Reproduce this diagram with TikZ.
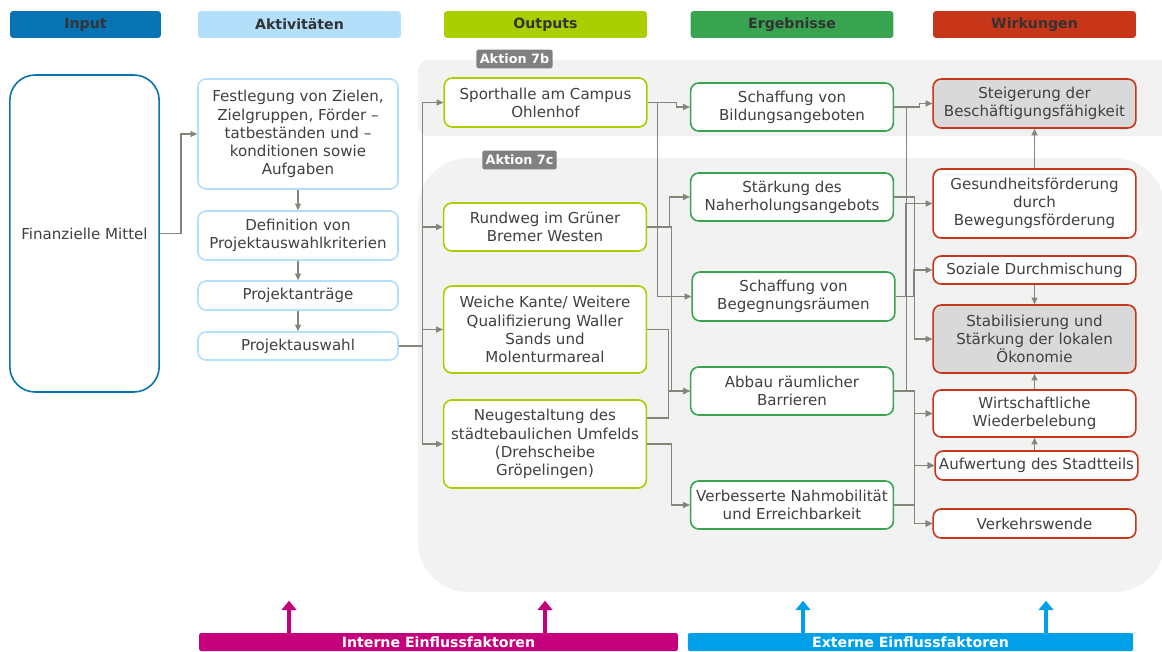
\documentclass[tikz,border=0pt]{standalone}
\usepackage{fontspec}
\setmainfont{DejaVu Sans}
\usetikzlibrary{arrows.meta,calc}

\definecolor{inblue}{HTML}{0773B3}
\definecolor{aktblue}{HTML}{B3DFFB}
\definecolor{outlime}{HTML}{AACF00}
\definecolor{erggreen}{HTML}{38A450}
\definecolor{wirkred}{HTML}{C8361A}
\definecolor{panel}{HTML}{F2F2F2}
\definecolor{shade}{HTML}{D9D9D9}
\definecolor{lnk}{HTML}{85857A}
\definecolor{txtgray}{HTML}{404040}
\definecolor{intmag}{HTML}{C4007A}
\definecolor{extblue}{HTML}{00A0E9}

\tikzset{
  every node/.style={font=\fontsize{11.3}{13.6}\selectfont, text=txtgray},
  bh/.style={minimum height=#1*0.75pt},
  hdr/.style={rounded corners=2pt, minimum height=20pt, minimum width=152pt,
    font=\fontsize{10.6}{12}\bfseries, text=black!80},
  tag/.style={fill=black!50, rounded corners=1.5pt, minimum height=14pt,
    inner sep=2.5pt, font=\fontsize{9.6}{11}\bfseries, text=white},
  box/.style={draw, line width=1.2pt, rounded corners=6pt, fill=white,
    align=center, inner sep=0pt, minimum width=152pt},
  akt/.style={box, draw=aktblue, minimum width=150pt},
  outp/.style={box, draw=outlime},
  erg/.style={box, draw=erggreen},
  wirk/.style={box, draw=wirkred},
  conn/.style={draw=lnk, line width=0.8pt, -{Triangle[length=5pt,width=4.5pt]}},
  bus/.style={draw=lnk, line width=0.8pt},
  bar/.style={minimum height=13.5pt, inner sep=0pt, rounded corners=1.5pt,
    font=\fontsize{10.6}{12}\bfseries, text=white},
  fat/.style={line width=3.5pt, -{Triangle[length=7pt,width=11pt]}}
}

\begin{document}
\begin{tikzpicture}[x=0.75pt,y=-0.75pt]
  \useasboundingbox (0,0) rectangle (1162,651);

  % Aktion panels
  \fill[panel, rounded corners=8pt] (418,60) rectangle (1172,136);
  \fill[panel, rounded corners=38pt] (418,158) rectangle (1165,592);
  \node[tag] (t7b) at (514.5,59) {Aktion 7b};
  \node[tag] (t7c) at (519.5,160) {Aktion 7c};

  % headers
  \node[hdr, fill=inblue, minimum width=113pt] (hin) at (85.5,24.5) {Input};
  \node[hdr, fill=aktblue] (hakt) at (299.5,24.5) {Aktivitäten};
  \node[hdr, fill=outlime] (hout) at (545.5,24.5) {Outputs};
  \node[hdr, fill=erggreen] (herg) at (792,24.5) {Ergebnisse};
  \node[hdr, fill=wirkred] (hwirk) at (1034.5,24.5) {Wirkungen};

  % input
  \node[box, draw=inblue, rounded corners=19pt, minimum width=112pt, bh=317] (in) at (84.5,233.5) {Finanzielle Mittel};

  % activities
  \node[akt, bh=110] (a1) at (298,134) {Festlegung von Zielen,\\Zielgruppen, Förder –\\tatbeständen und –\\konditionen sowie\\Aufgaben};
  \node[akt, bh=49] (a2) at (298,235.5) {Definition von\\Projektauswahlkriterien};
  \node[akt, bh=29] (a3) at (298,295.5) {Projektanträge};
  \node[akt, bh=28] (a4) at (298,346) {Projektauswahl};

  % outputs
  \node[outp, bh=49] (o1) at (545.5,102.5) {Sporthalle am Campus\\Ohlenhof};
  \node[outp, bh=48] (o2) at (545,227) {Rundweg im Grüner\\Bremer Westen};
  \node[outp, bh=87] (o3) at (545,329.5) {Weiche Kante/ Weitere\\Qualifizierung Waller\\Sands und\\Molenturmareal};
  \node[outp, bh=88] (o4) at (545,444) {Neugestaltung des\\städtebaulichen Umfelds\\(Drehscheibe\\Gröpelingen)};

  % results
  \node[erg, bh=48] (e1) at (792,107) {Schaffung von\\Bildungsangeboten};
  \node[erg, bh=48] (e2) at (792,197) {Stärkung des\\Naherholungsangebots};
  \node[erg, bh=49] (e3) at (793.5,296.5) {Schaffung von\\Begegnungsräumen};
  \node[erg, bh=48] (e4) at (792,391) {Abbau räumlicher\\Barrieren};
  \node[erg, bh=48] (e5) at (792,505) {Verbesserte Nahmobilität\\und Erreichbarkeit};

  % impacts
  \node[wirk, fill=shade, bh=49] (w1) at (1034.5,103.5) {Steigerung der\\Beschäftigungsfähigkeit};
  \node[wirk, bh=69] (w2) at (1034.5,203.5) {Gesundheitsförderung\\durch\\Bewegungsförderung};
  \node[wirk, bh=28] (w3) at (1034.5,270) {Soziale Durchmischung};
  \node[wirk, fill=shade, bh=68] (w4) at (1034.5,339) {Stabilisierung und\\Stärkung der lokalen\\Ökonomie};
  \node[wirk, bh=47] (w5) at (1034.5,413.5) {Wirtschaftliche\\Wiederbelebung};
  \node[wirk, bh=29] (w6) at (1036.5,465.5) {Aufwertung des Stadtteils};
  \node[wirk, bh=29] (w7) at (1034.5,523.5) {Verkehrswende};

  % input -> activities
  \draw[conn] (in.east) -- ++(21,0) |- (a1);
  \draw[conn] (a1) -- (a2);
  \draw[conn] (a2) -- (a3);
  \draw[conn] (a3) -- (a4);
  \foreach \o in {o1,o2,o3,o4}
    \draw[conn] (a4.east) -- ++(24,0) |- (\o);

  % outputs -> results
  \draw[conn] (o1.east) -- ++(29,0) |- (e1);
  \draw[conn] (o1.east) -- ++(10,0) |- (e3);
  \draw[conn] (o2.east) -- ++(22,0) |- (e2);
  \draw[conn] (o2.east) -- ++(24,0) |- (e4);
  \draw[conn] (o3.east) -- ++(21,0) |- (e4);
  \draw[conn] ($(o4.east)+(0,-26)$) -- ++(21,0) |- (e4);
  \draw[conn] (o4.east) -- ++(24,0) |- (e5);

  % results -> impacts
  \draw[conn] (e1.east) -- ++(25,0) |- (w1);
  \draw[bus] (e4.east) -- ++(12,0) |- ($(e1.east)+(12,0)$);
  \draw[conn] (e3.east) -- ++(10,0) |- (w2);
  \draw[conn] (e3.east) -- ++(18,0) |- (w3);
  \draw[conn] (e2.east) -- ++(20,0) |- (w4);
  \foreach \w in {w5,w6,w7} {
    \draw[conn] (e4.east) -- ++(20,0) |- (\w);
    \draw[conn] (e5.east) -- ++(20,0) |- (\w);
  }

  % between impacts
  \draw[conn] (w2) -- (w1);
  \draw[conn] (w3) -- (w4);
  \draw[conn] (w5) -- (w4);
  \draw[conn] (w6.north -| w5) -- (w5);

  % influence factors
  \node[bar, fill=intmag, minimum width=359pt] (int) at (438.5,642) {Interne Einflussfaktoren};
  \node[bar, fill=extblue, minimum width=334pt] (ext) at (910.5,642) {Externe Einflussfaktoren};
  \draw[fat, draw=intmag] ($(int.north)+(-149.5,0)$) -- ++(0,-32);
  \draw[fat, draw=intmag] ($(int.north)+(106.5,0)$) -- ++(0,-32);
  \draw[fat, draw=extblue] ($(ext.north)+(-107.5,0)$) -- ++(0,-32);
  \draw[fat, draw=extblue] ($(ext.north)+(135.5,0)$) -- ++(0,-32);
\end{tikzpicture}
\end{document}
